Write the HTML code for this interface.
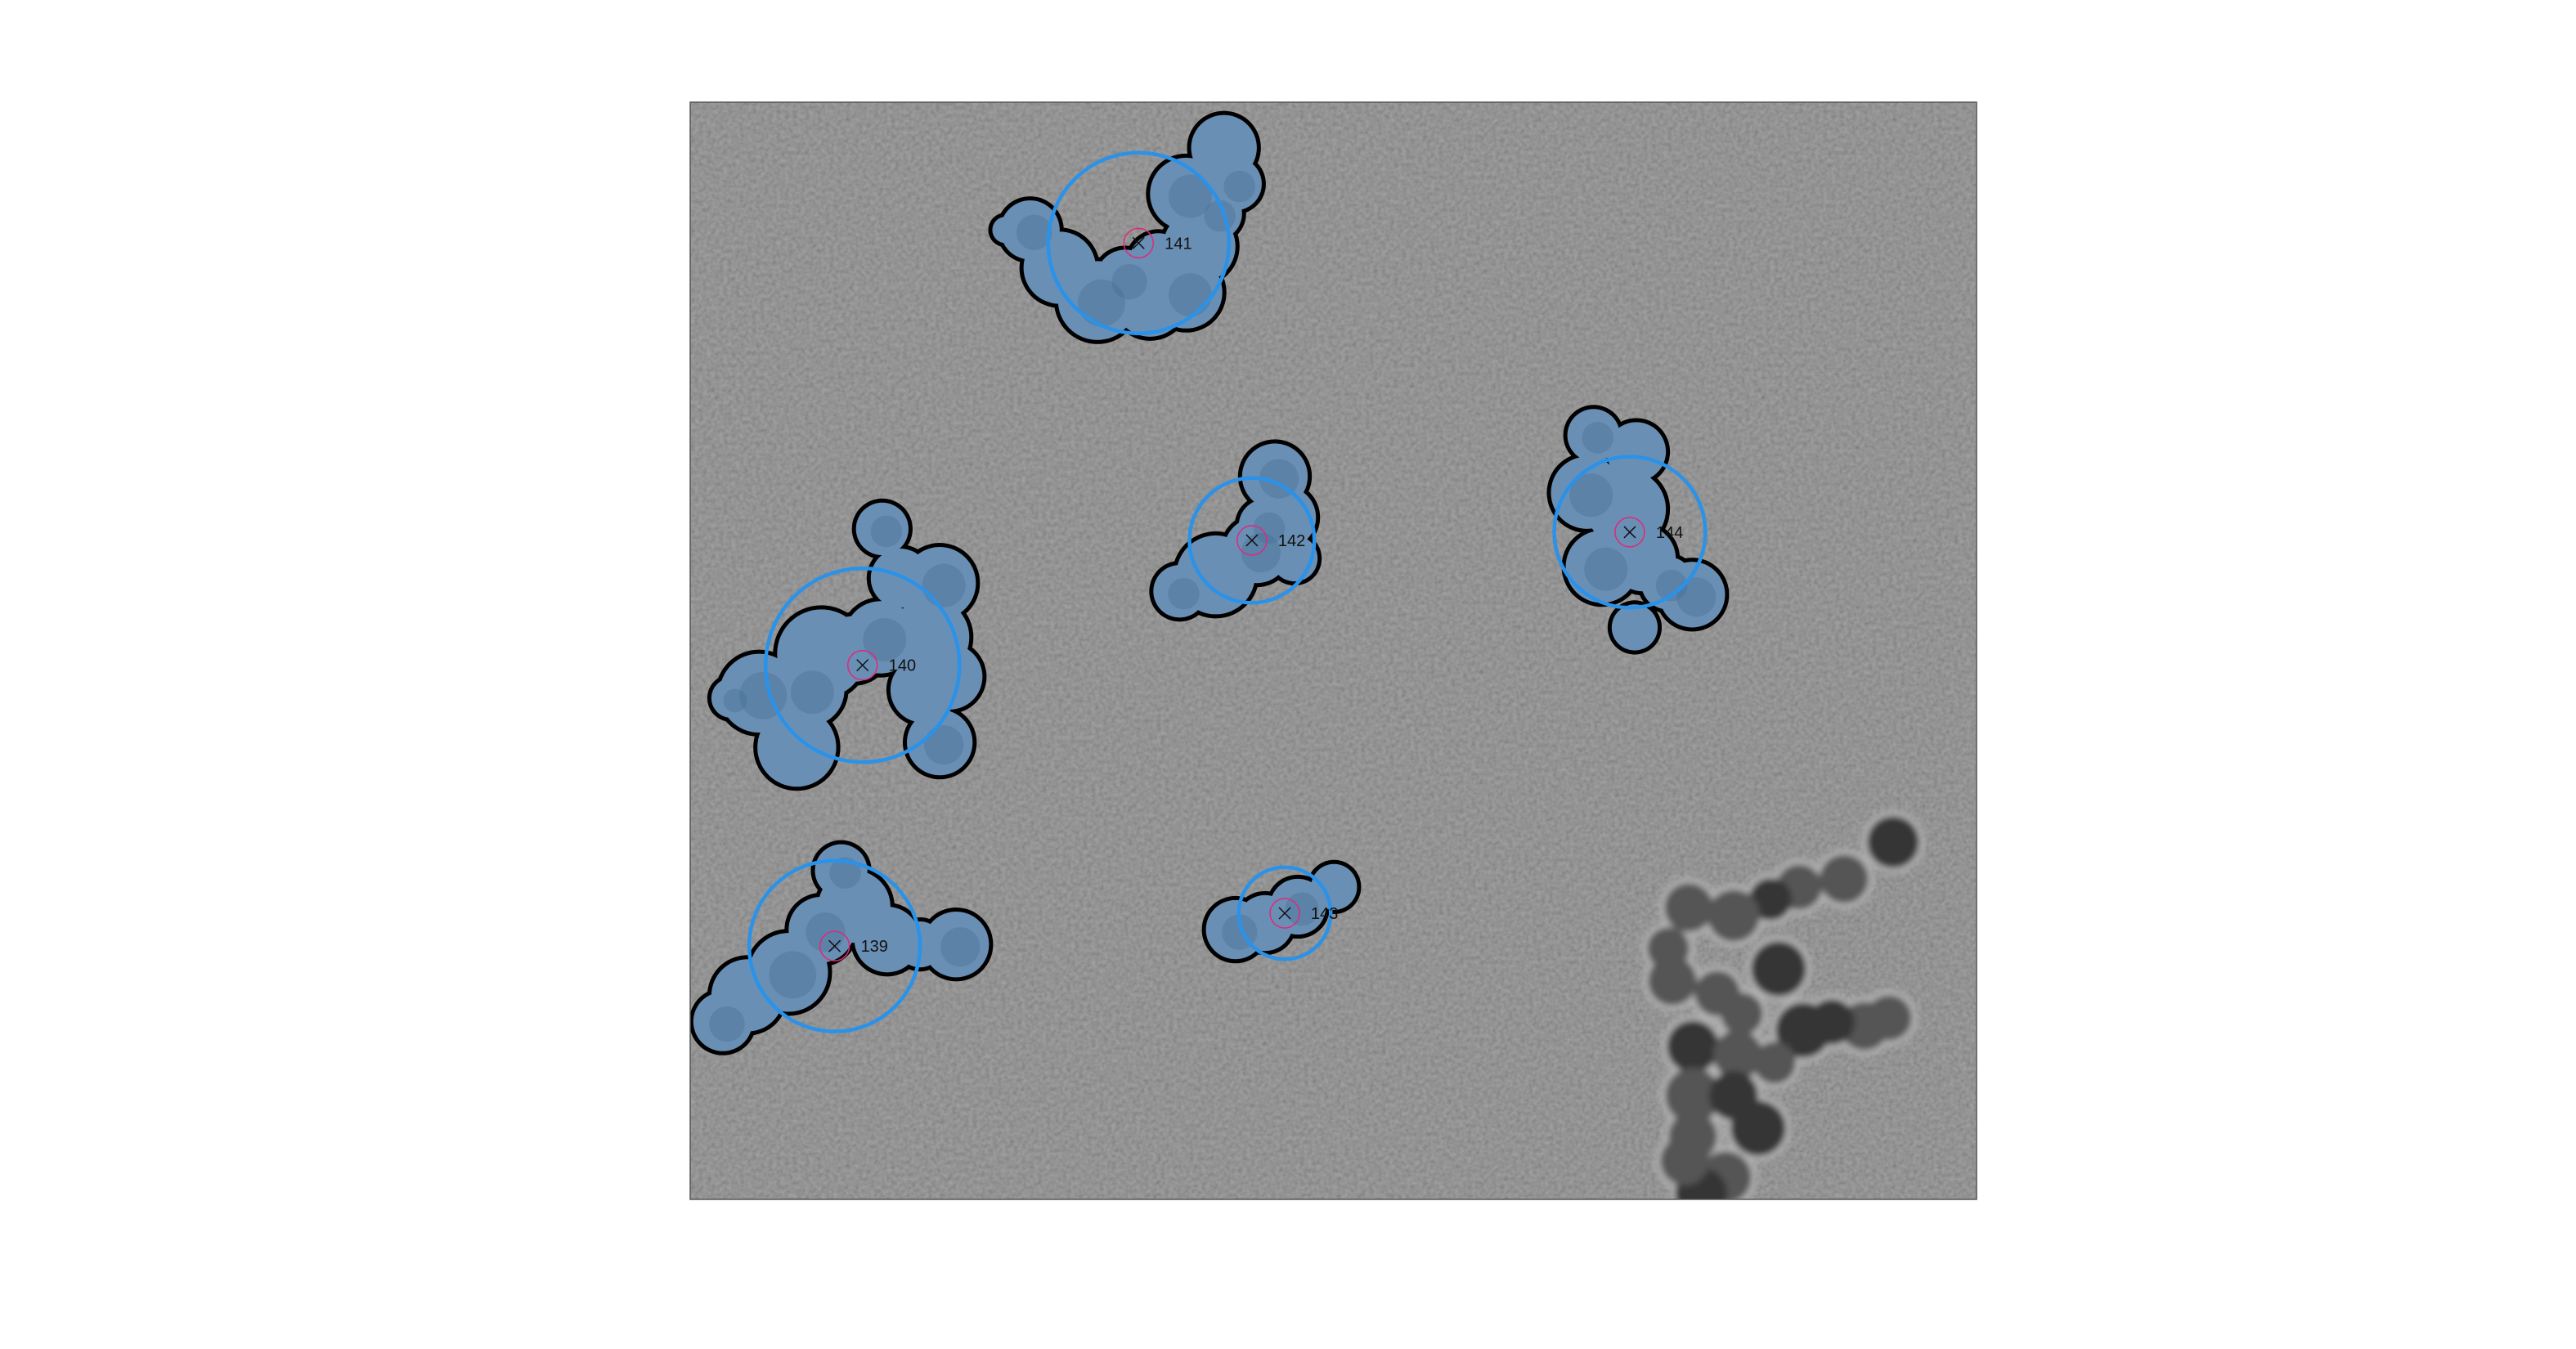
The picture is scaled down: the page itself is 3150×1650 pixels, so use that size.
<!DOCTYPE html>
<html><head><meta charset="utf-8"><style>
html,body{margin:0;padding:0;background:#fff;}
svg{display:block;}
</style></head><body>
<svg id="chart" width="3150" height="1650" viewBox="0 0 3150 1650" xmlns="http://www.w3.org/2000/svg">
<defs>
<filter id="noise2" x="0" y="0" width="100%" height="100%">
<feTurbulence type="fractalNoise" baseFrequency="0.2" numOctaves="2" seed="9"/>
<feColorMatrix type="saturate" values="0"/>
<feComponentTransfer><feFuncA type="linear" slope="0" intercept="0.3"/></feComponentTransfer>
</filter>
<filter id="soft"><feGaussianBlur stdDeviation="4"/></filter>
<clipPath id="imgclip"><rect x="844" y="125" width="1573" height="1342"/></clipPath>
</defs>
<g clip-path="url(#imgclip)">
<rect x="844" y="125" width="1573" height="1342" fill="#828282"/>
<rect x="844" y="125" width="1573" height="1342" filter="url(#noise2)"/>
<g id="dark" filter="url(#soft)"></g>
<g id="blobs"></g>
<g id="marks"></g>
</g>
<rect x="844" y="125" width="1573" height="1342" fill="none" stroke="#555" stroke-width="1.5"/>
</svg>
<script>
const S = 2.009;
const labels = ["141","142","144","140","139","143"];
const centersX = [693,762,992,525,508,782];
const centersY = [148,329,324,405,576,556];
const radii = [55,38,46,59,52,28];
const blobParts = [
 [[627,140,18],[645,163,22],[668,183,24],[700,183,22],[722,178,22],[730,150,22],[722,118,22],[745,90,20],[752,112,16],[705,160,18],[685,170,18],[612,140,8],[740,130,16]],
 [[776,290,20],[782,315,19],[765,335,20],[740,350,24],[718,360,16],[788,340,14],[770,320,16]],
 [[970,265,16],[996,275,18],[966,300,22],[990,310,24],[975,345,22],[1000,340,20],[1030,362,20],[995,382,14],[1015,355,16]],
 [[537,322,16],[548,352,18],[572,355,22],[566,388,24],[536,388,22],[500,398,27],[462,422,24],[485,455,24],[492,420,22],[562,420,20],[572,452,20],[578,412,20],[445,425,12],[520,395,20]],
 [[512,530,16],[520,552,22],[500,566,20],[540,572,20],[582,575,20],[560,575,14],[480,592,24],[455,606,22],[440,622,18]],
 [[752,566,18],[770,562,17],[790,552,17],[812,540,14]]
];
const darkX=[2315,2255,2200,2165,2120,2065,2175,2045,2100,2205,2280,2310,2070,2125,2070,2150,2070,2110,2080,2040,2130,2240,2170,2060,2120];
const darkY=[1030,1075,1085,1100,1120,1110,1185,1200,1215,1260,1255,1245,1280,1290,1340,1380,1390,1440,1460,1160,1240,1250,1300,1420,1340];
const darkR=[32,30,28,26,32,30,34,30,28,34,30,28,32,30,34,34,30,32,32,26,26,28,26,30,30];
const NS="http://www.w3.org/2000/svg";
function mk(t,a,p){const e=document.createElementNS(NS,t);for(const k in a)e.setAttribute(k,a[k]);p.appendChild(e);return e;}
const dark=document.getElementById('dark');
darkX.forEach((x,i)=>{
 const c=mk('circle',{cx:x,cy:darkY[i],r:darkR[i]+6,fill:'#b5b5b5'},dark);
 
 
});
darkX.forEach((x,i)=>{
 const c=mk('circle',{cx:x,cy:darkY[i],r:darkR[i],fill:i%3==0?'#353535':'#555555'},dark);
 
 
});
const blobs=document.getElementById('blobs');
blobParts.forEach((parts,k)=>{
 const g=mk('g',{},blobs);
 
 
 parts.forEach(p=>mk('circle',{cx:p[0]*S,cy:p[1]*S,r:p[2]*S+5,fill:'#000'},g));
 parts.forEach(p=>mk('circle',{cx:p[0]*S,cy:p[1]*S,r:p[2]*S,fill:'#6a8fb4'},g));
 parts.forEach((p,j)=>{ if(j%2==0) mk('circle',{cx:p[0]*S+5,cy:p[1]*S+3,r:p[2]*S*0.6,fill:'#3d6890',opacity:0.3},g);});
});
const marks=document.getElementById('marks');
labels.forEach((lab,i)=>{
 const cx=centersX[i]*S, cy=centersY[i]*S;
 const big=mk('circle',{cx:cx,cy:cy,r:radii[i]*S,fill:'none',stroke:'#2a92e8','stroke-width':4.5},marks);
 
 
 const sm=mk('circle',{cx:cx,cy:cy,r:18,fill:'none',stroke:'#e0287a','stroke-width':1.5},marks);
 
 
 const x=mk('path',{d:`M${cx-7} ${cy-7}L${cx+7} ${cy+7}M${cx+7} ${cy-7}L${cx-7} ${cy+7}`,stroke:'#111','stroke-width':1.5},marks);
 
 
 const t=mk('text',{x:cx+32,y:cy+7,'font-family':'Liberation Sans, sans-serif','font-size':20,fill:'#111'},marks);
 t.textContent=lab;
 
 
});
</script>
</body></html>
